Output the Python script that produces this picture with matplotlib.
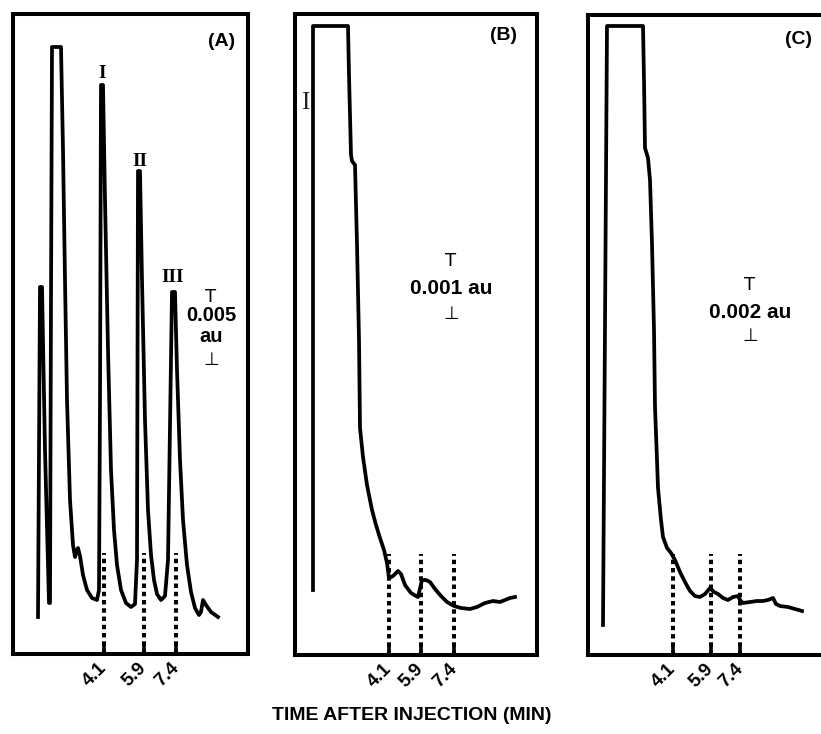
import matplotlib
matplotlib.use("Agg")
import matplotlib.pyplot as plt

# ---------------- data (chart distance along recorder trace, signal height) ----------------
tick_labels = ["4.1", "5.9", "7.4"]

# Panel A
a_ticks = [91, 131, 163]
a_pos = [25, 26, 27, 29, 32, 36, 37, 38, 39, 48, 50, 52, 54, 57, 60, 62, 64, 65, 67, 70,
         74, 79, 84, 86, 87, 88, 90, 92, 95, 98, 101, 104, 108, 113, 118, 122, 124, 125,
         127, 129, 132, 135, 138, 141, 144, 148, 152, 155, 159, 162, 164, 167, 170, 174,
         178, 182, 186, 188, 190, 193, 198, 205]
a_sig = [37, 204, 367, 367, 204, 51, 51, 354, 607, 607, 504, 374, 254, 154, 109, 97, 104,
         106, 98, 79, 64, 56, 54, 64, 254, 569, 569, 454, 304, 184, 124, 89, 64, 51, 47,
         50, 94, 483, 483, 374, 234, 144, 99, 74, 60, 54, 58, 94, 362, 362, 284, 194, 134,
         89, 62, 46, 39, 42, 54, 49, 42, 37]

# Panel B
b_ticks = [94, 126, 159]
b_pos = [18, 18, 53, 54, 56, 57, 60, 62, 64, 65, 68, 72, 77, 81, 85, 89, 92, 94, 98, 103,
         106, 110, 116, 121, 123, 127, 131, 135, 140, 146, 152, 159, 166, 175, 182, 190,
         198, 205, 210, 215, 220]
b_sig = [65, 629, 629, 580, 500, 494, 490, 411, 315, 227, 198, 170, 145, 130, 117, 105,
         92, 77, 79, 84, 81, 70, 62, 59, 58, 75, 75, 73, 66, 59, 53, 49, 47, 46, 48, 52,
         54, 53, 55, 57, 58]

# Panel C
c_ticks = [85, 123, 152]
c_pos = [15, 19, 55, 56, 57, 60, 62, 64, 66, 67, 69, 70, 73, 75, 79, 83, 87, 92, 97, 102,
         107, 112, 117, 122, 126, 130, 135, 140, 145, 150, 152, 155, 162, 169, 175, 180,
         185, 188, 192, 200, 207, 214]
c_sig = [30, 629, 629, 575, 507, 497, 475, 411, 325, 248, 195, 167, 135, 118, 107, 102,
         95, 83, 73, 64, 59, 58, 61, 67, 63, 61, 57, 55, 58, 59, 55, 52, 53, 54, 54, 55,
         57, 51, 49, 48, 46, 44]

scale_labels = ["0.005\nau", "0.001 au", "0.002 au"]
panel_labels = ["(A)", "(B)", "(C)"]
peak_labels = ["I", "II", "III"]

# ---------------- figure ----------------
W, H = 821, 734
fig = plt.figure(figsize=(W / 100, H / 100), dpi=100)
fig.patch.set_facecolor("white")

SANS = ["Liberation Sans", "DejaVu Sans"]
SERIF = ["Liberation Serif", "DejaVu Serif"]
LW_BOX = 2.9
LW_TRACE = 2.7


def make_ax(left, right, top, bottom):
    ax = fig.add_axes([left / W, 1 - bottom / H, (right - left) / W, (bottom - top) / H])
    ax.set_xlim(0, right - left)
    ax.set_ylim(0, bottom - top)
    for s in ax.spines.values():
        s.set_linewidth(LW_BOX)
        s.set_color("black")
    ax.set_yticks([])
    ax.set_facecolor("white")
    return ax


def finish(ax, ticks):
    ax.set_xticks(ticks)
    ax.set_xticklabels(tick_labels, rotation=45, rotation_mode="anchor",
                       ha="right", va="center", fontsize=13.5, fontweight="bold",
                       family=SANS)
    ax.tick_params(axis="x", direction="in", length=9, width=2.6, pad=8)
    ax.vlines(ticks, 0, 101, colors="black", linewidth=2.9,
              linestyles=[(0, (1.1, 0.95))])


def scale_bar(ax, x, y_top, y_lines, y_bot, txt, fs=15):
    ax.text(x, y_top, "T", ha="center", va="center", fontsize=13,
            family=["DejaVu Sans"])
    for line, yy in zip(txt.split("\n"), y_lines):
        ax.text(x, yy, line, ha="center", va="center", fontsize=fs,
                fontweight="bold", family=SANS)
    ax.text(x, y_bot, "\u22a5", ha="center", va="center", fontsize=13,
            family=["DejaVu Sans"])


# Panel A
axA = make_ax(13, 248, 14, 654)
axA.plot(a_pos, a_sig, color="black", lw=LW_TRACE, solid_joinstyle="round")
finish(axA, a_ticks)
axA.text(209, 612, panel_labels[0], ha="center", va="center", fontsize=14,
         fontweight="bold", family=SANS)
for lab, xx, yy in zip(peak_labels, [89, 127, 160], [581, 493, 376]):
    axA.text(xx, yy, lab, ha="center", va="center", fontsize=14,
             fontweight="bold", family=SERIF)
scale_bar(axA, 198, 357, [338, 317], 294, scale_labels[0], fs=14.5)

# Panel B
axB = make_ax(295, 537, 14, 655)
axB.plot(b_pos, b_sig, color="black", lw=LW_TRACE, solid_joinstyle="round")
finish(axB, b_ticks)
axB.text(208, 620, panel_labels[1], ha="center", va="center", fontsize=14,
         fontweight="bold", family=SANS)
axB.text(10, 552, "I", ha="center", va="center", fontsize=18, family=SERIF,
         color="#222222")
scale_bar(axB, 156, 394, [367], 341, scale_labels[1], fs=15)

# Panel C
axC = make_ax(588, 821, 15, 655)
axC.spines["right"].set_visible(False)
axC.plot(c_pos, c_sig, color="black", lw=LW_TRACE, solid_joinstyle="round")
finish(axC, c_ticks)
axC.text(210, 615, panel_labels[2], ha="center", va="center", fontsize=14,
         fontweight="bold", family=SANS)
scale_bar(axC, 162, 370, [343], 319, scale_labels[2], fs=15)

fig.text(412 / W, 1 - 716 / H, "TIME AFTER INJECTION (MIN)", ha="center",
         va="center", fontsize=14, fontweight="bold", family=SANS)

fig.savefig("out.png", dpi=100)
